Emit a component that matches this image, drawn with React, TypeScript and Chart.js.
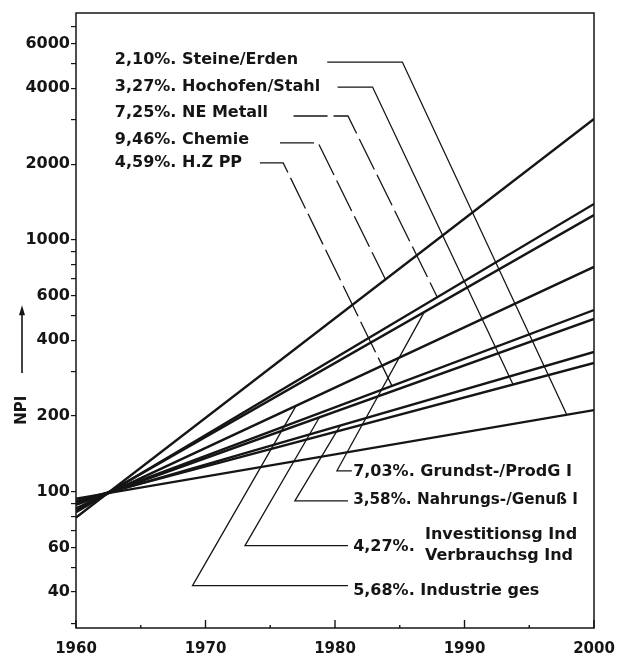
import React, { useEffect, useRef } from 'react';
import { Chart, registerables } from 'chart.js';

Chart.register(...registerables);

// ---- data ----
const years = [1960, 2000];
const sectors = [
  'Steine/Erden',
  'Hochofen/Stahl',
  'NE Metall',
  'Chemie',
  'H.Z PP',
  'Grundst-/ProdG I',
  'Nahrungs-/Genuß I',
  'Investitionsg Ind / Verbrauchsg Ind',
  'Industrie ges',
];
const growthRates = ['2,10%.', '3,27%.', '7,25%.', '9,46%.', '4,59%.', '7,03%.', '3,58%.', '4,27%.', '5,68%.'];
const npi1960 = [94, 92, 83, 79, 89, 84, 91, 89, 86];
const npi2000 = [211, 325, 1390, 3020, 527, 1256, 359, 486, 782];

const xTickLabels = [1960, 1970, 1980, 1990, 2000];
const xMinorTicks = [1965, 1975, 1985, 1995];
const yTickLabels = [40, 60, 100, 200, 400, 600, 1000, 2000, 4000, 6000];
const yMinorTicks = [30, 50, 70, 80, 90, 300, 500, 700, 800, 900, 3000, 5000, 7000];

// ---- annotation layout (data coordinates) ----
const labelLayout = {
  topTextYear: 1963.0,
  bottomTextYear: 1981.4,
  textValue: [5176, 4045, 3192, 2494, 2023, 120.1, 92.9, 60.5, 40.5],
  leaderLevel: [5082, 4045, 3105, 2427, 2023, 121.2, 92.1, 61.1, 42.4],
  leaderFrom: [1979.4, 1980.2, 1976.8, 1975.75, 1974.2, 1981.3, 1981.0, 1981.0, 1981.0],
  leaderKnee: [1985.2, 1982.9, 1981.0, 1978.7, 1976.0, 1980.15, 1976.9, 1973.05, 1969.0],
  leaderEnd: [1997.9, 1993.75, 1987.9, 1983.9, 1984.4, 1986.9, 1980.4, 1978.8, 1977.0],
  dashed: [false, false, true, true, true, false, false, false, false],
  investLinesYear: 1986.95,
  investLinesValue: [67.5, 55.7],
  titleValue: 211,
  arrowFrom: 296,
  arrowTo: 551,
};

const INK = '#151515';
const FONT = '"DejaVu Sans", sans-serif';

function valueOnSeries(i: number, year: number) {
  const t = (year - years[0]) / (years[1] - years[0]);
  const a = Math.log10(npi1960[i]);
  const b = Math.log10(npi2000[i]);
  return Math.pow(10, a + t * (b - a));
}

const overlay = {
  id: 'overlay',
  afterDraw(chart: any) {
    const { ctx, chartArea, scales } = chart;
    const xs = scales.x;
    const ys = scales.y;
    ctx.save();
    // frame
    ctx.strokeStyle = INK;
    ctx.lineWidth = 1.5;
    ctx.strokeRect(chartArea.left, chartArea.top, chartArea.right - chartArea.left, chartArea.bottom - chartArea.top);

    // x ticks pointing inward
    ctx.lineWidth = 1.4;
    xTickLabels.forEach((v) => {
      const px = xs.getPixelForValue(v);
      ctx.beginPath();
      ctx.moveTo(px, chartArea.bottom);
      ctx.lineTo(px, chartArea.bottom - 8);
      ctx.stroke();
    });
    xMinorTicks.forEach((v) => {
      const px = xs.getPixelForValue(v);
      ctx.beginPath();
      ctx.moveTo(px, chartArea.bottom);
      ctx.lineTo(px, chartArea.bottom - 3);
      ctx.stroke();
    });

    // leader lines
    ctx.lineWidth = 1.3;
    sectors.forEach((_, i) => {
      const yl = ys.getPixelForValue(labelLayout.leaderLevel[i]);
      const x0 = xs.getPixelForValue(labelLayout.leaderFrom[i]);
      const xk = xs.getPixelForValue(labelLayout.leaderKnee[i]);
      const xe = xs.getPixelForValue(labelLayout.leaderEnd[i]);
      const ye = ys.getPixelForValue(valueOnSeries(i, labelLayout.leaderEnd[i]));
      ctx.setLineDash(labelLayout.dashed[i] ? [34, 6] : []);
      ctx.beginPath();
      ctx.moveTo(x0, yl);
      ctx.lineTo(xk, yl);
      ctx.lineTo(xe, ye);
      ctx.stroke();
    });
    ctx.setLineDash([]);

    // labels
    ctx.fillStyle = INK;
    ctx.font = `bold 16px ${FONT}`;
    ctx.textBaseline = 'middle';
    ctx.textAlign = 'left';
    sectors.forEach((name, i) => {
      const top = i < 5;
      const tx = xs.getPixelForValue(top ? labelLayout.topTextYear : labelLayout.bottomTextYear);
      const ty = ys.getPixelForValue(labelLayout.textValue[i]);
      const room = chartArea.right - tx - 16;
      if (name.includes(' / ')) {
        ctx.fillText(growthRates[i], tx, ty);
        const parts = name.split(' / ');
        const lx = xs.getPixelForValue(labelLayout.investLinesYear);
        parts.forEach((p, k) => {
          ctx.fillText(p, lx, ys.getPixelForValue(labelLayout.investLinesValue[k]));
        });
      } else if (top) {
        ctx.fillText(`${growthRates[i]} ${name}`, tx, ty);
      } else {
        ctx.fillText(`${growthRates[i]} ${name}`, tx, ty, room);
      }
    });

    // y title with arrow
    const tx = 22;
    const ty = ys.getPixelForValue(labelLayout.titleValue);
    ctx.save();
    ctx.translate(tx, ty);
    ctx.rotate(-Math.PI / 2);
    ctx.textAlign = 'center';
    ctx.font = `bold 15px ${FONT}`;
    ctx.fillText('NPI', 0, 0);
    ctx.restore();
    const a0 = ys.getPixelForValue(labelLayout.arrowFrom);
    const a1 = ys.getPixelForValue(labelLayout.arrowTo);
    ctx.lineWidth = 1.6;
    ctx.beginPath();
    ctx.moveTo(tx, a0);
    ctx.lineTo(tx, a1 + 6);
    ctx.stroke();
    ctx.beginPath();
    ctx.moveTo(tx, a1);
    ctx.lineTo(tx - 3, a1 + 10);
    ctx.lineTo(tx + 3, a1 + 10);
    ctx.closePath();
    ctx.fill();
    ctx.restore();
  },
};

export default function App() {
  const ref = useRef<HTMLCanvasElement | null>(null);
  useEffect(() => {
    if (!ref.current) return;
    const datasets = sectors.map((name, i) => ({
      label: name,
      data: years.map((yr, k) => ({ x: yr, y: k === 0 ? npi1960[i] : npi2000[i] })),
      borderColor: INK,
      borderWidth: 2.4,
      pointRadius: 0,
      fill: false,
      tension: 0,
    }));
    const chart = new Chart(ref.current, {
      type: 'line',
      data: { datasets },
      plugins: [overlay],
      options: {
        animation: false,
        responsive: false,
        devicePixelRatio: 1,
        layout: { padding: { top: 13, right: 23, left: 0, bottom: 0 } },
        plugins: { legend: { display: false }, tooltip: { enabled: false } },
        scales: {
          x: {
            type: 'linear',
            min: 1960,
            max: 2000,
            afterBuildTicks: (scale: any) => {
              scale.ticks = xTickLabels.map((v) => ({ value: v }));
            },
            afterFit: (scale: any) => {
              scale.height = 32;
              scale.paddingLeft = 0;
              scale.paddingRight = 0;
            },
            grid: { display: false, drawTicks: false },
            border: { display: false },
            ticks: {
              autoSkip: false,
              maxRotation: 0,
              padding: 12,
              color: INK,
              font: { family: FONT, size: 15, weight: 'bold' },
              callback: (v: any) => String(v),
            },
          },
          y: {
            type: 'logarithmic',
            min: 28.8,
            max: 7960,
            afterBuildTicks: (scale: any) => {
              const all = [...yTickLabels, ...yMinorTicks].sort((a, b) => a - b);
              scale.ticks = all.map((v) => ({ value: v }));
            },
            afterFit: (scale: any) => {
              scale.width = 76;
              scale.paddingTop = 0;
              scale.paddingBottom = 0;
            },
            grid: {
              display: true,
              drawOnChartArea: false,
              drawTicks: true,
              tickLength: 5,
              color: INK,
              lineWidth: 1.2,
            },
            border: { display: false },
            ticks: {
              autoSkip: false,
              padding: 1,
              color: INK,
              font: { family: FONT, size: 16, weight: 'bold' },
              callback: (v: any) => (yTickLabels.includes(Number(v)) ? String(v) : ''),
            },
          },
        },
      } as any,
    });
    return () => chart.destroy();
  }, []);
  return (
    <div style={{ position: 'absolute', left: 0, top: 0, width: 617, height: 660, background: '#fff' }}>
      <canvas ref={ref} width={617} height={660} style={{ width: 617, height: 660 }} />
    </div>
  );
}
